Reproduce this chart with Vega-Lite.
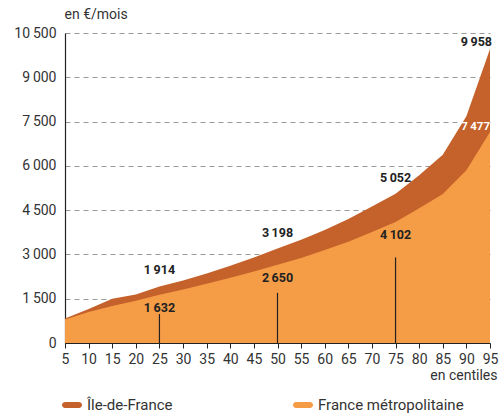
{
  "$schema": "https://vega.github.io/schema/vega-lite/v6.json",
  "width": 425,
  "height": 310,
  "autosize": "none",
  "padding": {"left": 65, "top": 33, "right": 9, "bottom": 71},
  "config": {
    "view": {"stroke": null},
    "font": "Roboto",
    "axisX": {"labelOverlap": false},
    "locale": {"number": {"decimal": ",", "thousands": "\u2009", "grouping": [3], "currency": ["", " €"]}}
  },
  "datasets": {
    "series": [
      {"centile": 5, "series": "Île-de-France", "value": 830},
      {"centile": 10, "series": "Île-de-France", "value": 1150},
      {"centile": 15, "series": "Île-de-France", "value": 1500},
      {"centile": 20, "series": "Île-de-France", "value": 1640},
      {"centile": 25, "series": "Île-de-France", "value": 1914},
      {"centile": 30, "series": "Île-de-France", "value": 2120},
      {"centile": 35, "series": "Île-de-France", "value": 2350},
      {"centile": 40, "series": "Île-de-France", "value": 2620},
      {"centile": 45, "series": "Île-de-France", "value": 2900},
      {"centile": 50, "series": "Île-de-France", "value": 3198},
      {"centile": 55, "series": "Île-de-France", "value": 3500},
      {"centile": 60, "series": "Île-de-France", "value": 3830},
      {"centile": 65, "series": "Île-de-France", "value": 4200},
      {"centile": 70, "series": "Île-de-France", "value": 4620},
      {"centile": 75, "series": "Île-de-France", "value": 5052},
      {"centile": 80, "series": "Île-de-France", "value": 5680},
      {"centile": 85, "series": "Île-de-France", "value": 6380},
      {"centile": 90, "series": "Île-de-France", "value": 7680},
      {"centile": 95, "series": "Île-de-France", "value": 9958},
      {"centile": 5, "series": "France métropolitaine", "value": 800},
      {"centile": 10, "series": "France métropolitaine", "value": 1050},
      {"centile": 15, "series": "France métropolitaine", "value": 1250},
      {"centile": 20, "series": "France métropolitaine", "value": 1430},
      {"centile": 25, "series": "France métropolitaine", "value": 1632},
      {"centile": 30, "series": "France métropolitaine", "value": 1810},
      {"centile": 35, "series": "France métropolitaine", "value": 2010},
      {"centile": 40, "series": "France métropolitaine", "value": 2210},
      {"centile": 45, "series": "France métropolitaine", "value": 2420},
      {"centile": 50, "series": "France métropolitaine", "value": 2650},
      {"centile": 55, "series": "France métropolitaine", "value": 2880},
      {"centile": 60, "series": "France métropolitaine", "value": 3150},
      {"centile": 65, "series": "France métropolitaine", "value": 3430},
      {"centile": 70, "series": "France métropolitaine", "value": 3760},
      {"centile": 75, "series": "France métropolitaine", "value": 4102},
      {"centile": 80, "series": "France métropolitaine", "value": 4560},
      {"centile": 85, "series": "France métropolitaine", "value": 5050},
      {"centile": 90, "series": "France métropolitaine", "value": 5850},
      {"centile": 95, "series": "France métropolitaine", "value": 7150}
    ],
    "marks": [
      {"centile": 25, "idf": 1914, "fr": 1632, "rule": 980},
      {"centile": 50, "idf": 3198, "fr": 2650, "rule": 1700},
      {"centile": 75, "idf": 5052, "fr": 4102, "rule": 2900}
    ],
    "ends": [
      {"centile": 95, "idf": 9958, "fr": 7477}
    ]
  },
  "encoding": {
    "x": {
      "field": "centile", "type": "quantitative",
      "scale": {"domain": [5, 95], "nice": false, "zero": false},
      "axis": {
        "values": [5, 10, 15, 20, 25, 30, 35, 40, 45, 50, 55, 60, 65, 70, 75, 80, 85, 90, 95],
        "format": "d", "labelOverlap": false,
        "grid": false, "domainColor": "#222", "domainWidth": 1.2,
        "tickColor": "#222", "tickSize": 5, "labelFontSize": 14, "labelColor": "#333",
        "labelPadding": 4, "labelFlush": false,
        "title": "en centiles", "titleFontSize": 14, "titleFontWeight": "normal", "titleColor": "#333",
        "titleAnchor": "end", "titleAlign": "right", "titleX": 432, "titleY": 25, "titleBaseline": "top"
      }
    }
  },
  "layer": [
    {
      "data": {"name": "series"},
      "transform": [{"filter": "datum.series === 'Île-de-France'"}],
      "mark": {"type": "area", "opacity": 1},
      "encoding": {
        "y": {
          "field": "value", "type": "quantitative",
          "scale": {"domain": [0, 10500], "nice": false},
          "axis": {
            "values": [0, 1500, 3000, 4500, 6000, 7500, 9000, 10500],
            "format": ",d", "grid": true, "gridDash": [5, 4], "gridColor": "#9a9a9a",
            "domainColor": "#222", "domainWidth": 1.2, "ticks": false,
            "labelFontSize": 14, "labelColor": "#333", "labelPadding": 9,
            "title": "en €/mois", "titleAngle": 0, "titleFontSize": 14, "titleFontWeight": "normal", "titleColor": "#333",
            "titleAlign": "left", "titleAnchor": "start", "titleX": -1, "titleY": -19, "titleBaseline": "middle"
          }
        },
        "color": {
          "field": "series", "type": "nominal",
          "scale": {"domain": ["Île-de-France", "France métropolitaine"], "range": ["#c5612a", "#f59c47"]},
          "legend": {
            "orient": "none", "legendX": -3, "legendY": 362, "direction": "horizontal", "columns": 2,
            "title": null, "padding": 0,
            "symbolType": "M-0.7,-0.3H0.7A0.3,0.3 0 0 1 0.7,0.3H-0.7A0.3,0.3 0 0 1 -0.7,-0.3Z",
            "symbolSize": 400, "symbolOpacity": 1, "symbolStrokeWidth": 0,
            "labelFontSize": 15, "labelColor": "#333", "labelOffset": 5, "columnPadding": 120, "labelLimit": 300
          }
        }
      }
    },
    {
      "data": {"name": "series"},
      "transform": [{"filter": "datum.series === 'France métropolitaine'"}],
      "mark": {"type": "area", "opacity": 1},
      "encoding": {
        "y": {"field": "value", "type": "quantitative"},
        "color": {"field": "series", "type": "nominal"}
      }
    },
    {
      "data": {"name": "marks"},
      "mark": {"type": "rule", "color": "#222", "strokeWidth": 1.2},
      "encoding": {
        "y": {"field": "rule", "type": "quantitative"},
        "y2": {"datum": 0}
      }
    },
    {
      "data": {"name": "marks"},
      "mark": {"type": "text", "font": "Roboto", "fontWeight": "bold", "fontSize": 12.5, "color": "#222", "dy": -16},
      "encoding": {
        "y": {"field": "idf", "type": "quantitative"},
        "text": {"field": "idf", "type": "quantitative", "format": ",d"}
      }
    },
    {
      "data": {"name": "marks"},
      "mark": {"type": "text", "font": "Roboto", "fontWeight": "bold", "fontSize": 12.5, "color": "#222", "dy": 13},
      "encoding": {
        "y": {"field": "fr", "type": "quantitative"},
        "text": {"field": "fr", "type": "quantitative", "format": ",d"}
      }
    },
    {
      "data": {"name": "ends"},
      "mark": {"type": "text", "font": "Roboto", "fontWeight": "bold", "fontSize": 12.5, "color": "#222", "align": "right", "dy": -7, "dx": 2},
      "encoding": {
        "y": {"field": "idf", "type": "quantitative"},
        "text": {"field": "idf", "type": "quantitative", "format": ",d"}
      }
    },
    {
      "data": {"name": "ends"},
      "mark": {"type": "text", "font": "Roboto", "fontWeight": "bold", "fontSize": 11.5, "color": "#ffffff", "align": "right", "dy": 4.5, "dx": 0},
      "encoding": {
        "y": {"field": "fr", "type": "quantitative"},
        "text": {"field": "fr", "type": "quantitative", "format": ",d"}
      }
    }
  ]
}
